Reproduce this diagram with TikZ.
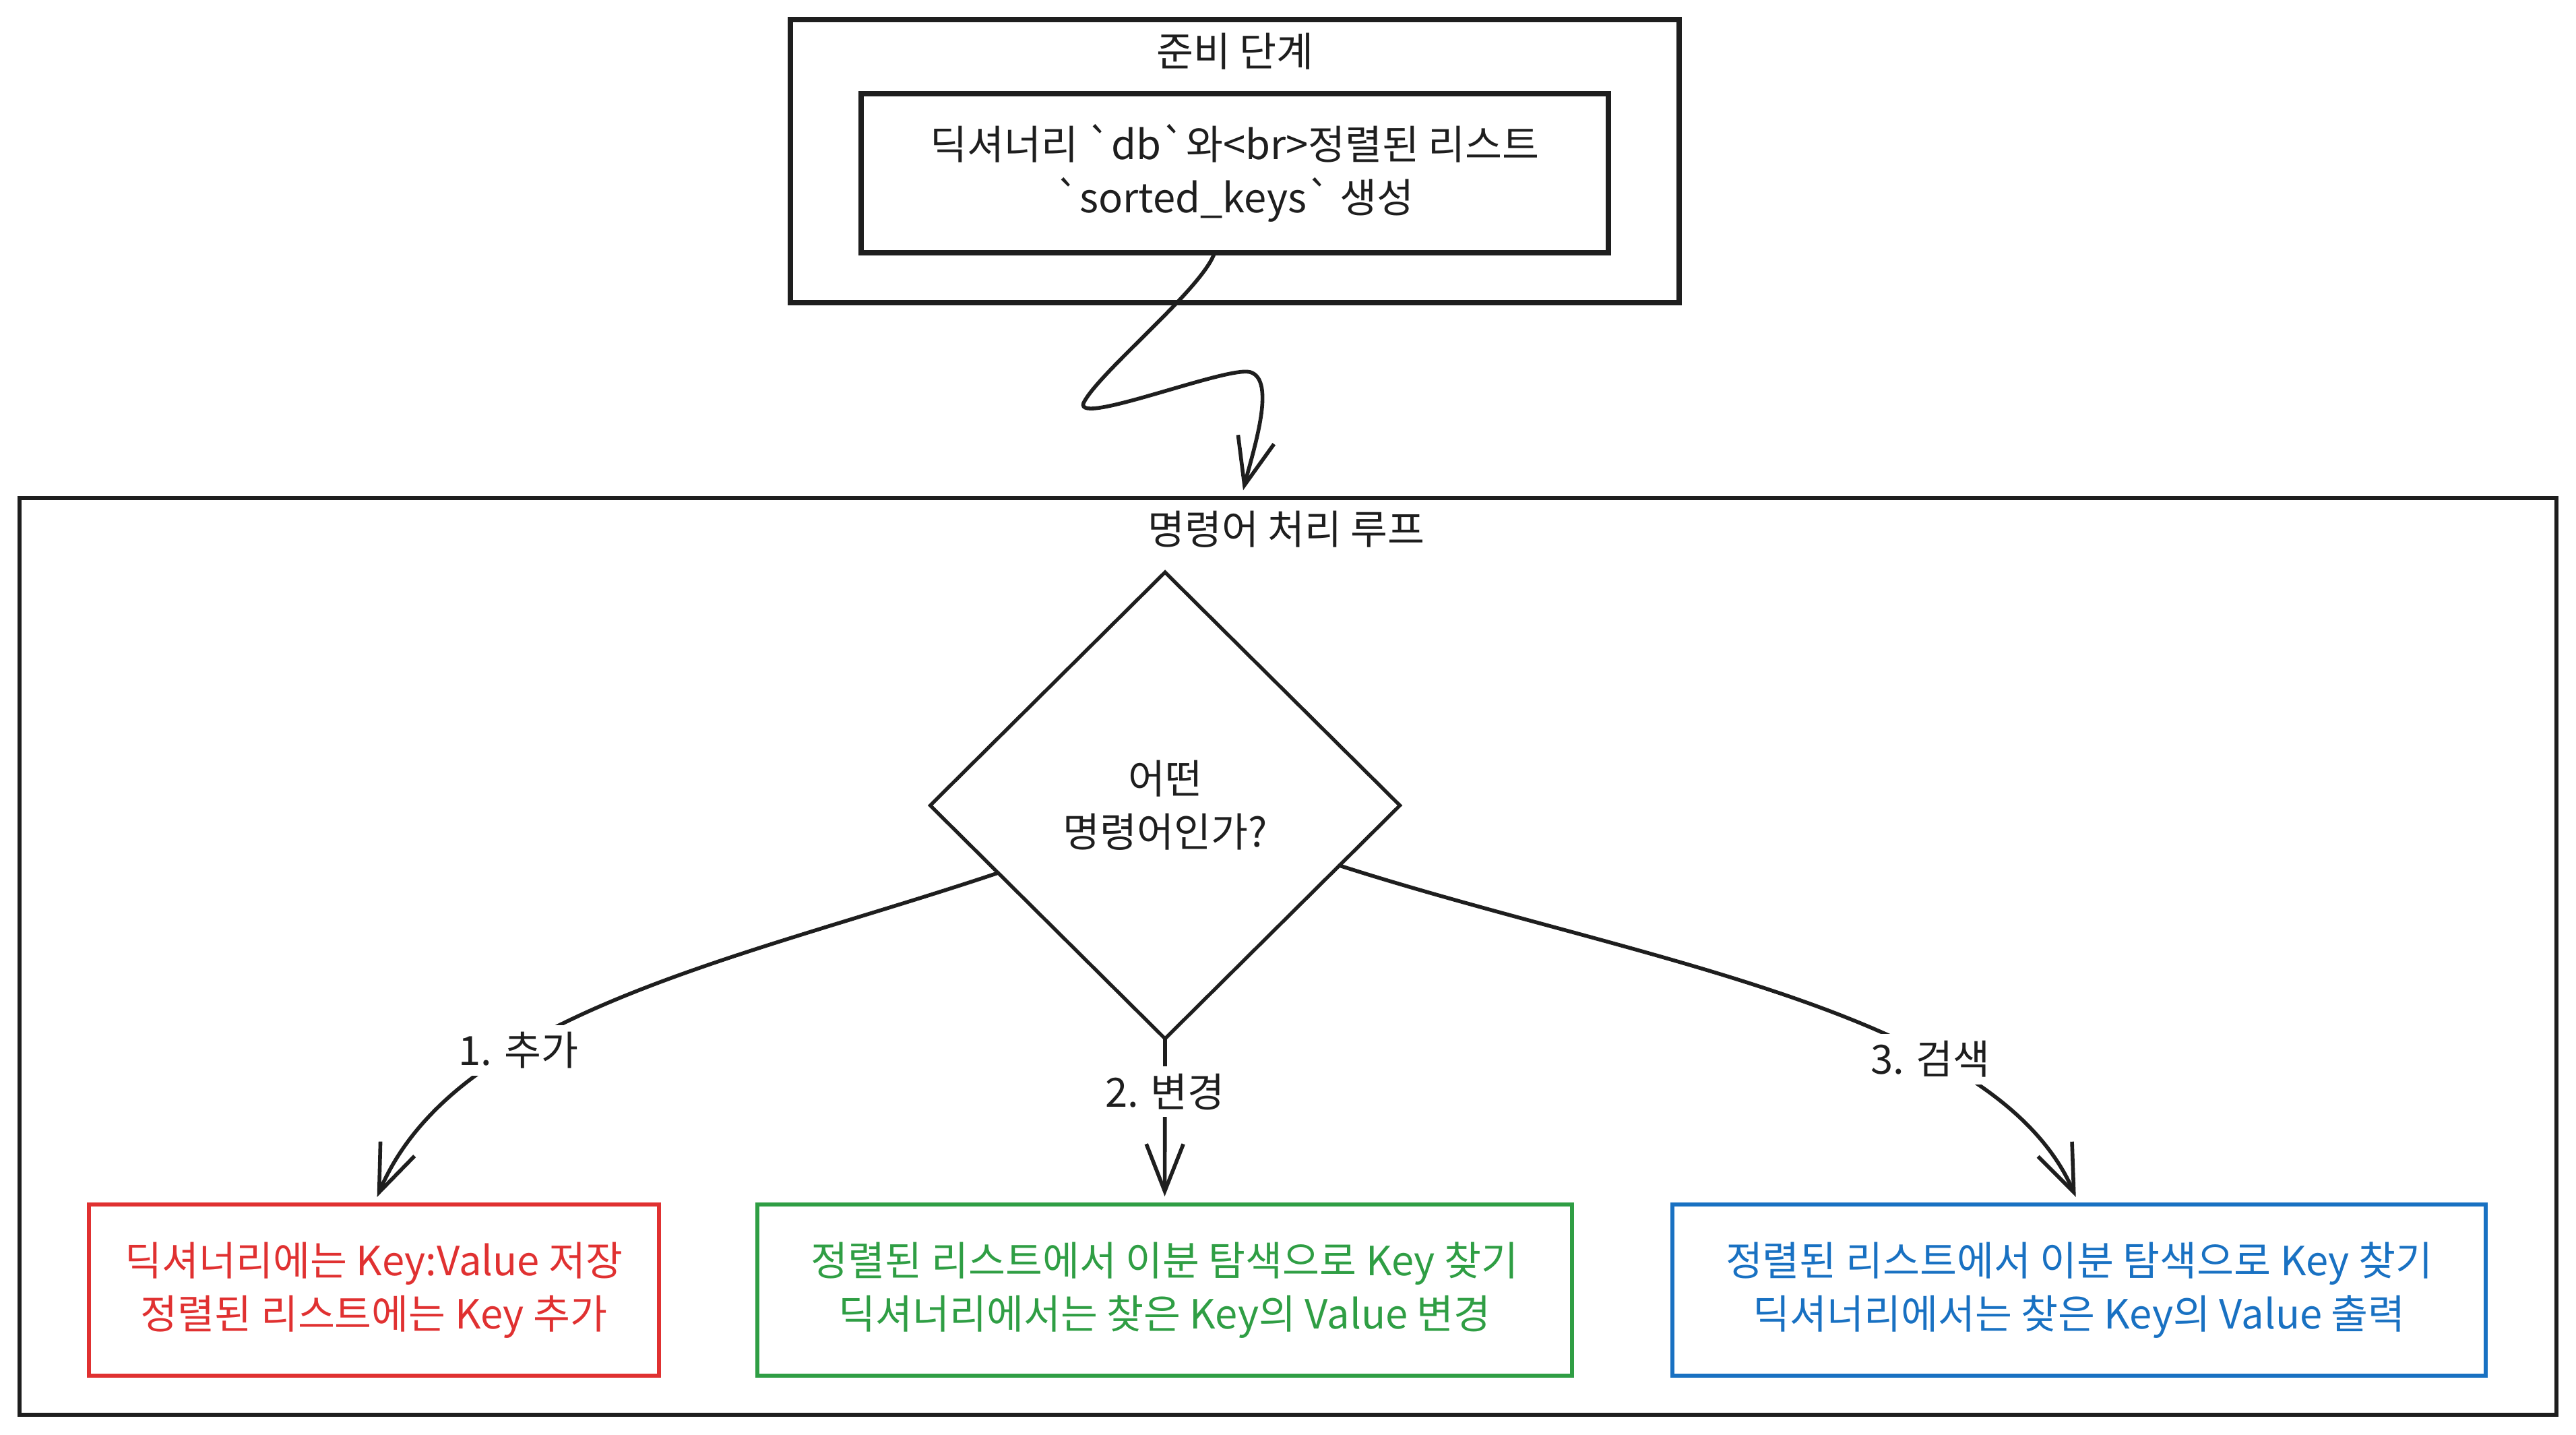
\documentclass[tikz,border=0pt]{standalone}
\usepackage{fontspec}
\setmainfont{Noto Sans CJK KR}
\usetikzlibrary{shapes.geometric,arrows.meta}
\definecolor{ink}{HTML}{1E1E1E}
\definecolor{addred}{HTML}{E03131}
\definecolor{editgreen}{HTML}{2F9E44}
\definecolor{findblue}{HTML}{1971C2}
\newcommand{\btick}{\textasciigrave}
\tikzset{
  txt/.style={font=\fontsize{17}{22.5}\selectfont},
  frame/.style={draw=ink, line width=1.5pt, inner sep=0pt, outer sep=0pt},
  boldframe/.style={frame, line width=2.2pt},
  frametitle/.style={txt, text=ink},
  decision/.style={diamond, draw=ink, line width=1.5pt, minimum width=6.97cm, minimum height=6.92cm, inner sep=0pt, outer sep=0pt, align=center, txt, text=ink},
  resultbox/.style={draw=#1, text=#1, line width=1.9pt, minimum height=2.54cm, inner sep=0pt, outer sep=0pt, align=center, txt},
  flow/.style={draw=ink, line width=1.6pt, line cap=round, -{Straight Barb[length=7mm,width=5.5mm,line width=1.6pt]}, shorten >=1.2mm},
  flowlabel/.style={fill=white, inner sep=3pt, txt, text=ink},
}

\begin{document}
\begin{tikzpicture}
\useasboundingbox (0,0) rectangle (38.23,21.28);
\node[boldframe, minimum width=13.19cm, minimum height=4.20cm] (setup) at (18.325,18.89) {};
\node[frametitle] (setuptitle) at (18.33,20.52) {준비 단계};
\node[boldframe, minimum width=11.09cm, minimum height=2.36cm, align=center, txt, text=ink] (prep) at (18.325,18.71)
  {딕셔너리 \btick db\btick 와<br>정렬된 리스트\\\btick sorted\_keys\btick{} 생성};
\node[frame, minimum width=37.65cm, minimum height=13.60cm] (loop) at (19.115,7.09) {};
\node[frametitle] (looptitle) at (19.09,13.43) {명령어 처리 루프};
\node[decision] (q) at (17.29,9.33) {어떤\\명령어인가?};
\node[resultbox=addred, minimum width=8.46cm] (add) at (5.55,2.14)
  {딕셔너리에는 Key:Value 저장\\정렬된 리스트에는 Key 추가};
\node[resultbox=editgreen, minimum width=12.09cm] (edit) at (17.285,2.14)
  {정렬된 리스트에서 이분 탐색으로 Key 찾기\\딕셔너리에서는 찾은 Key의 Value 변경};
\node[resultbox=findblue, minimum width=12.07cm] (find) at (30.855,2.14)
  {정렬된 리스트에서 이분 탐색으로 Key 찾기\\딕셔너리에서는 찾은 Key의 Value 출력};
\draw[flow] ([xshift=-0.3cm]prep.south) .. controls (17.85,17.0) and (16.3,15.75) .. (16.08,15.30)
  .. controls (15.95,14.95) and (18.2,15.85) .. (18.55,15.76)
  .. controls (18.95,15.65) and (18.6,14.6) .. ([xshift=-0.695cm]loop.north);
\draw[flow] (q.202) .. controls (11.00,7.05) and (6.75,6.25) .. (add.north)
  node[flowlabel, pos=0.66] (addlabel) {1. 추가};
\draw[flow] (q.south) -- (edit.north)
  node[flowlabel, pos=0.32] (editlabel) {2. 변경};
\draw[flow] (q.-19) .. controls (24.2,7.05) and (29.6,6.3) .. (find.north)
  node[flowlabel, pos=0.69] (findlabel) {3. 검색};
\end{tikzpicture}
\end{document}
